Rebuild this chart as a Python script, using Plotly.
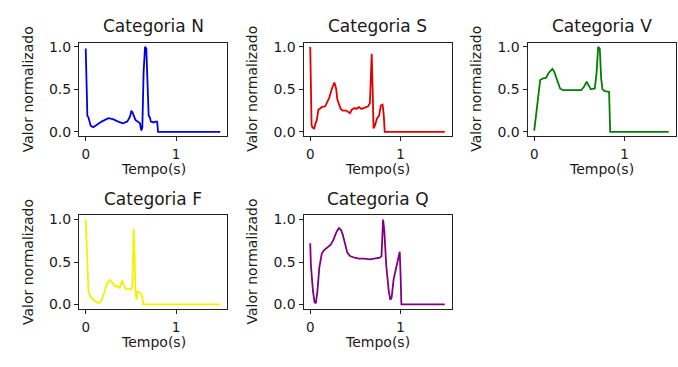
import plotly.graph_objects as go

W, H = 678, 367

# ---- data (time in s, normalized value) ----
t_N = [0.0, 0.018, 0.03, 0.055, 0.084, 0.12, 0.176, 0.25, 0.30, 0.36, 0.41, 0.46, 0.49, 0.505, 0.52, 0.55, 0.58, 0.60, 0.615, 0.626, 0.64, 0.656, 0.67, 0.685, 0.696, 0.71, 0.72, 0.755, 0.77, 0.79, 0.80, 1.488]
v_N = [0.98, 0.19, 0.17, 0.07, 0.055, 0.08, 0.12, 0.16, 0.15, 0.12, 0.10, 0.12, 0.18, 0.25, 0.22, 0.14, 0.12, 0.10, 0.015, 0.05, 0.70, 1.0, 0.98, 0.55, 0.19, 0.17, 0.12, 0.11, 0.12, 0.12, 0.0, 0.0]

t_S = [0.0, 0.005, 0.015, 0.025, 0.044, 0.055, 0.073, 0.09, 0.128, 0.165, 0.18, 0.21, 0.24, 0.267, 0.286, 0.30, 0.337, 0.36, 0.40, 0.44, 0.46, 0.49, 0.51, 0.54, 0.567, 0.60, 0.64, 0.66, 0.68, 0.69, 0.70, 0.714, 0.74, 0.762, 0.78, 0.80, 0.813, 0.824, 1.488]
v_S = [1.0, 0.70, 0.08, 0.05, 0.04, 0.085, 0.14, 0.26, 0.29, 0.30, 0.33, 0.40, 0.51, 0.58, 0.51, 0.38, 0.27, 0.25, 0.25, 0.22, 0.26, 0.28, 0.27, 0.29, 0.27, 0.28, 0.30, 0.34, 0.92, 0.51, 0.04, 0.07, 0.16, 0.19, 0.31, 0.32, 0.20, 0.0, 0.0]

t_V = [0.0, 0.03, 0.066, 0.10, 0.13, 0.157, 0.18, 0.20, 0.22, 0.25, 0.286, 0.32, 0.40, 0.47, 0.52, 0.55, 0.58, 0.60, 0.626, 0.67, 0.69, 0.707, 0.725, 0.74, 0.755, 0.78, 0.817, 0.828, 0.84, 1.488]
v_V = [0.015, 0.32, 0.61, 0.63, 0.635, 0.69, 0.72, 0.74, 0.71, 0.61, 0.51, 0.49, 0.49, 0.49, 0.49, 0.53, 0.59, 0.55, 0.50, 0.51, 0.70, 1.0, 0.98, 0.63, 0.50, 0.48, 0.47, 0.47, 0.0, 0.0]

t_F = [0.0, 0.01, 0.03, 0.048, 0.084, 0.12, 0.146, 0.176, 0.21, 0.24, 0.267, 0.293, 0.33, 0.35, 0.377, 0.40, 0.425, 0.443, 0.47, 0.505, 0.516, 0.53, 0.54, 0.55, 0.564, 0.57, 0.59, 0.615, 0.626, 0.637, 1.488]
v_F = [1.0, 0.63, 0.16, 0.10, 0.055, 0.027, 0.015, 0.05, 0.16, 0.26, 0.29, 0.26, 0.21, 0.22, 0.19, 0.28, 0.22, 0.18, 0.18, 0.18, 0.22, 0.89, 0.63, 0.14, 0.055, 0.16, 0.14, 0.12, 0.085, 0.0, 0.0]

t_Q = [0.0, 0.007, 0.03, 0.048, 0.062, 0.08, 0.10, 0.128, 0.154, 0.19, 0.227, 0.256, 0.293, 0.318, 0.34, 0.36, 0.385, 0.41, 0.44, 0.49, 0.54, 0.60, 0.66, 0.71, 0.77, 0.788, 0.806, 0.82, 0.84, 0.868, 0.886, 0.90, 0.923, 0.95, 0.978, 0.99, 1.0, 1.008, 1.488]
v_Q = [0.72, 0.47, 0.16, 0.027, 0.015, 0.16, 0.43, 0.60, 0.64, 0.67, 0.705, 0.76, 0.86, 0.90, 0.88, 0.82, 0.705, 0.61, 0.57, 0.55, 0.54, 0.54, 0.53, 0.54, 0.55, 0.57, 1.0, 0.86, 0.47, 0.16, 0.055, 0.08, 0.30, 0.43, 0.57, 0.62, 0.32, 0.0, 0.0]

categories = ["N", "S", "V", "F", "Q"]
times = [t_N, t_S, t_V, t_F, t_Q]
values = [v_N, v_S, v_V, v_F, v_Q]
colors = ["#0000dd", "#e00000", "#007f00", "#f2f200", "#800080"]

x_ticks = [0, 1]
y_ticks = [0.0, 0.5, 1.0]
title_prefix = "Categoria "
x_label = "Tempo(s)"
y_label = "Valor normalizado"

# ---- layout (pixel geometry) ----
col_left = [79, 303.5, 527.5]
ax_w = 148
row_top = [39.5, 216.0]
ax_h = 95.5

FONT = "DejaVu Sans"
TXT = "#1a1a1a"

fig = go.Figure()
annotations = []
layout_axes = {}

for i, cat in enumerate(categories):
    r, c = divmod(i, 3)
    left = col_left[c]
    right = left + ax_w
    top = row_top[r]
    bottom = top + ax_h
    idx = "" if i == 0 else str(i + 1)
    xa, ya = "x" + idx, "y" + idx

    fig.add_trace(go.Scatter(
        x=times[i], y=values[i], mode="lines",
        line=dict(color=colors[i], width=1.8),
        xaxis=xa, yaxis=ya, showlegend=False, hoverinfo="skip"))

    tmax = max(times[i])
    layout_axes["xaxis" + idx] = dict(
        domain=[left / W, right / W], anchor=ya,
        range=[-0.05 * tmax, 1.05 * tmax],
        tickvals=x_ticks, ticktext=[str(v) for v in x_ticks],
        ticks="outside", ticklen=4, tickwidth=1, tickcolor="#222",
        ticklabelstandoff=2,
        showline=True, linecolor="#222", linewidth=1, mirror=True,
        showgrid=False, zeroline=False,
        tickfont=dict(family=FONT, size=13.5, color=TXT))
    layout_axes["yaxis" + idx] = dict(
        domain=[1 - bottom / H, 1 - top / H], anchor=xa,
        range=[-0.05, 1.05],
        tickvals=y_ticks, ticktext=["%.1f" % v for v in y_ticks],
        ticks="outside", ticklen=4, tickwidth=1, tickcolor="#222",
        showline=True, linecolor="#222", linewidth=1, mirror=True,
        showgrid=False, zeroline=False,
        tickfont=dict(family=FONT, size=14, color=TXT))

    cx = (left + right) / 2
    cy = (top + bottom) / 2
    annotations.append(dict(
        text=title_prefix + cat, x=cx / W, y=1 - (top - 17) / H,
        xref="paper", yref="paper", xanchor="center", yanchor="middle",
        showarrow=False, font=dict(family=FONT, size=17, color=TXT)))
    annotations.append(dict(
        text=x_label, x=cx / W, y=1 - (bottom + 34) / H,
        xref="paper", yref="paper", xanchor="center", yanchor="middle",
        showarrow=False, font=dict(family=FONT, size=14, color=TXT)))
    annotations.append(dict(
        text=y_label, x=(left - 51) / W, y=1 - cy / H, textangle=-90,
        xref="paper", yref="paper", xanchor="center", yanchor="middle",
        showarrow=False, font=dict(family=FONT, size=14, color=TXT)))

fig.update_layout(
    width=W, height=H,
    margin=dict(l=0, r=0, t=0, b=0),
    paper_bgcolor="white", plot_bgcolor="white",
    annotations=annotations,
    **layout_axes)

fig.write_html("out.html", config={"displayModeBar": False})
